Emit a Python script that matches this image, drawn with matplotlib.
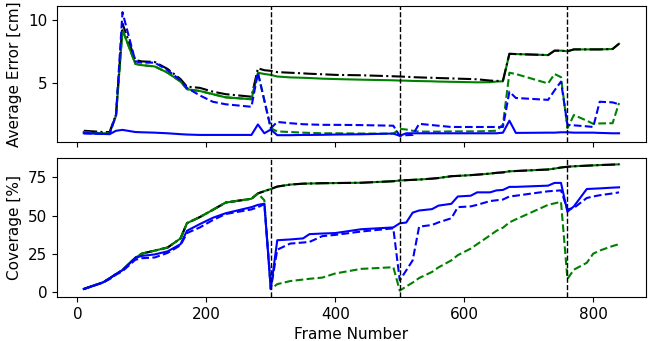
import numpy as np
import matplotlib
matplotlib.use('Agg')
from matplotlib import pyplot as plt
from matplotlib import rc

rc('font', size=11)

frames = [10, 40, 50, 60, 70, 90, 100, 120, 140, 160,
          170, 190, 210, 230, 270, 280, 290, 300, 310, 330,
          350, 360, 380, 400, 440, 490, 500, 510, 520, 530,
          550, 560, 580, 590, 610, 620, 640, 650, 660, 670,
          680, 730, 740, 750, 760, 770, 790, 800, 810, 830,
          840]

# average error [cm]
err_all = [1.2, 1.1, 1.1, 2.5, 9.7, 6.8, 6.7, 6.65, 6.1, 5.3,
           4.7, 4.6, 4.3, 4.1, 3.9, 6.15, 6.0, 5.95, 5.85, 5.8,
           5.75, 5.72, 5.68, 5.63, 5.6, 5.52, 5.5, 5.48, 5.45, 5.43,
           5.4, 5.38, 5.35, 5.33, 5.3, 5.28, 5.18, 5.15, 5.18, 7.3,
           7.28, 7.2, 7.55, 7.55, 7.5, 7.65, 7.65, 7.65, 7.65, 7.68,
           8.1]
err_green = [1.1, 1.0, 1.0, 2.4, 9.2, 6.5, 6.4, 6.3, 5.8, 5.1,
             4.5, 4.35, 4.1, 3.85, 3.7, 5.8, 5.7, 5.63, 5.5, 5.43,
             5.4, 5.38, 5.33, 5.3, 5.25, 5.2, 5.18, 5.17, 5.15, 5.14,
             5.12, 5.1, 5.08, 5.07, 5.05, 5.04, 5.05, 5.1, 5.12, 7.3,
             7.28, 7.2, 7.55, 7.55, 7.5, 7.65, 7.65, 7.65, 7.65, 7.68,
             8.1]
err_green_new = [1.1, 1.0, 1.0, 2.4, 9.2, 6.5, 6.4, 6.3, 5.8, 5.1,
                 4.5, 4.35, 4.1, 3.85, 3.7, 5.8, 3.6, 1.4, 1.15, 1.1,
                 1.05, 1.03, 1.0, 1.0, 0.98, 0.97, 1.35, 1.3, 1.2, 1.13,
                 1.13, 1.13, 1.15, 1.15, 1.15, 1.15, 1.18, 1.2, 1.7, 5.8,
                 5.7, 4.95, 5.7, 5.45, 1.4, 2.45, 2.0, 1.75, 1.78, 1.8,
                 3.4]
err_blue_new = [1.0, 0.95, 0.95, 2.5, 10.6, 6.7, 6.6, 6.6, 6.0, 5.2,
                4.6, 4.0, 3.5, 3.3, 3.1, 5.8, 3.6, 1.4, 1.9, 1.8,
                1.72, 1.7, 1.67, 1.67, 1.65, 1.6, 0.8, 0.85, 0.87, 1.75,
                1.65, 1.6, 1.5, 1.5, 1.5, 1.5, 1.5, 1.5, 1.5, 4.3,
                3.8, 3.65, 4.4, 5.1, 1.67, 1.63, 1.55, 1.5, 3.5, 3.45,
                3.3]
err_blue = [1.0, 0.95, 0.93, 1.2, 1.27, 1.1, 1.08, 1.05, 1.0, 0.93,
            0.9, 0.87, 0.87, 0.87, 0.87, 1.7, 1.0, 1.3, 0.85, 0.85,
            0.87, 0.87, 0.88, 0.9, 0.92, 0.98, 0.8, 1.0, 1.0, 1.0,
            1.0, 1.0, 1.0, 1.0, 1.0, 1.0, 1.0, 1.0, 1.05, 2.0,
            1.03, 1.05, 1.05, 1.08, 1.08, 1.05, 1.05, 1.05, 1.03, 1.0,
            1.0]

# coverage [%]
cov_all = [1.8, 6.2, 8.8, 11.6, 14.2, 22.3, 25.0, 27.0, 29.0, 35.0,
           45.0, 49.0, 53.7, 58.5, 61.0, 64.5, 66.0, 67.4, 69.0, 70.3,
           70.9, 71.0, 71.2, 71.3, 71.5, 72.5, 73.0, 73.2, 73.4, 73.6,
           74.2, 74.6, 75.8, 76.0, 76.5, 76.8, 77.5, 78.0, 78.3, 79.0,
           79.2, 80.2, 80.8, 81.5, 82.0, 82.3, 82.7, 82.9, 83.1, 83.4,
           83.6]
cov_green = list(cov_all)
cov_green_new = [1.8, 6.2, 8.8, 11.6, 14.2, 22.3, 25.0, 27.0, 29.0, 35.0,
                 45.0, 49.0, 53.7, 58.5, 61.0, 64.5, 60.0, 1.8, 5.0, 7.0,
                 8.0, 8.5, 9.3, 12.0, 15.0, 16.1, 0.7, 3.5, 6.0, 9.0,
                 13.0, 16.0, 20.6, 24.0, 28.3, 31.2, 37.0, 40.0, 42.0, 45.5,
                 47.5, 57.0, 58.0, 59.0, 8.4, 14.5, 19.0, 25.0, 27.0, 30.0,
                 31.2]
cov_blue = [1.8, 6.2, 8.8, 11.6, 14.2, 22.3, 23.5, 24.5, 26.5, 31.2,
            40.0, 44.4, 48.5, 51.5, 55.5, 57.0, 57.7, 1.8, 33.8, 34.3,
            35.0, 37.8, 38.2, 38.5, 41.0, 42.2, 44.9, 45.4, 51.9, 53.3,
            54.2, 56.5, 57.7, 62.5, 63.0, 65.2, 65.2, 66.5, 66.8, 68.8,
            68.8, 69.6, 71.4, 71.4, 52.5, 56.0, 67.4, 67.6, 67.8, 68.3,
            68.5]
cov_blue_new = [1.8, 6.0, 8.3, 11.2, 13.5, 21.0, 22.0, 22.5, 25.5, 30.5,
                38.5, 42.2, 47.0, 51.0, 54.0, 55.5, 57.5, 1.8, 27.6, 31.6,
                32.3, 32.7, 36.5, 37.3, 39.5, 41.6, 7.5, 14.0, 20.6, 42.7,
                43.8, 45.5, 48.2, 55.5, 56.0, 57.0, 59.5, 60.0, 60.5, 62.5,
                63.0, 65.9, 66.2, 66.5, 54.0, 55.0, 61.5, 62.5, 63.3, 64.5,
                65.2]

events = [300, 500, 760]

fig = plt.figure(figsize=(6.51, 3.41), dpi=100)
ax1 = fig.add_axes([0.0876, 0.5836, 0.9044, 0.3988])
ax2 = fig.add_axes([0.0876, 0.129, 0.9044, 0.4077], sharex=ax1)

ax1.plot(frames, err_green, 'g-')
ax1.plot(frames, err_all, 'k-.')
ax1.plot(frames, err_green_new, 'g--')
ax1.plot(frames, err_blue_new, 'b--')
ax1.plot(frames, err_blue, 'b-')

ax2.plot(frames, cov_green, 'g-')
ax2.plot(frames, cov_all, 'k-.')
ax2.plot(frames, cov_green_new, 'g--')
ax2.plot(frames, cov_blue_new, 'b--')
ax2.plot(frames, cov_blue, 'b-')

for ax in (ax1, ax2):
    for e in events:
        ax.axvline(e, color='k', linestyle='--', linewidth=1)

ax1.set_yticks([5, 10])
ax2.set_yticks([0, 25, 50, 75])
ax2.set_xticks([0, 200, 400, 600, 800])
plt.setp(ax1.get_xticklabels(), visible=False)

ax1.set_ylabel('Average Error [cm]')
ax2.set_ylabel('Coverage [%]')
ax2.set_xlabel('Frame Number')

fig.savefig('out.png', dpi=100)
